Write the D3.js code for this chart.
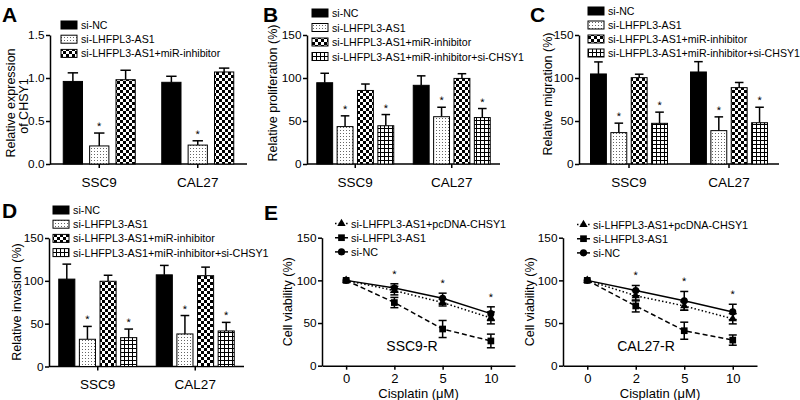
<!DOCTYPE html>
<html><head><meta charset="utf-8">
<script src="https://cdn.jsdelivr.net/npm/d3@7"></script>
<style>body{margin:0;background:#fff} svg{display:block} text{font-family:"Liberation Sans",Arial,sans-serif;fill:#000}</style>
</head><body><svg id="c" width="800" height="400"></svg>
<script>
// ---------------- DATA ----------------
const groups = ["SSC9", "CAL27"];
const seriesA = ["si-NC", "si-LHFPL3-AS1", "si-LHFPL3-AS1+miR-inhibitor"];
const seriesBCD = ["si-NC", "si-LHFPL3-AS1", "si-LHFPL3-AS1+miR-inhibitor", "si-LHFPL3-AS1+miR-inhibitor+si-CHSY1"];
// [group][series]
const expA = [[0.96, 0.21, 0.98], [0.95, 0.22, 1.07]];
const expAErr = [[0.10, 0.15, 0.11], [0.07, 0.05, 0.045]];
const starA = [[0, 1, 0], [0, 1, 0]];
const prolB = [[94.5, 43.5, 85.5, 44.5], [91.5, 55, 99.5, 54]];
const prolBErr = [[11, 12.5, 7.5, 13], [11, 11, 5.5, 10.5]];
const migC = [[104.7, 36.5, 100.4, 47.3], [107, 38.8, 88.8, 48]];
const migCErr = [[14, 11, 4, 13], [12, 16, 6, 18]];
const invD = [[102, 31.8, 99.5, 33.7], [107, 38, 106, 41.5]];
const invDErr = [[17.5, 15, 7, 10], [11, 21.5, 10, 10]];
const starBCD = [[0, 1, 0, 1], [0, 1, 0, 1]];
const yTicksA = [0, 0.5, 1.0, 1.5];
const yTicksPct = [0, 50, 100, 150];
const doses = ["0", "2", "5", "10"];
const lineSeries = ["si-LHFPL3-AS1+pcDNA-CHSY1", "si-LHFPL3-AS1", "si-NC"];
// [series][dose]
const ssc9R = [[100, 88, 74, 56], [100, 74, 43, 29], [100, 91, 79, 61]];
const ssc9RErr = [[0, 5, 4, 7], [0, 6, 10, 8], [0, 5, 6, 8]];
const cal27R = [[100, 82, 70, 55], [100, 70, 41, 30], [100, 88, 76, 63]];
const cal27RErr = [[0, 6, 5, 6], [0, 7, 10, 6], [0, 6, 11, 9]];
const doseStar = [0, 1, 1, 1];

// ---------------- DRAW ----------------
const svg = d3.select("#c");
const defs = svg.append("defs");
const pd = defs.append("pattern").attr("id", "pDots").attr("patternUnits", "userSpaceOnUse").attr("width", 3).attr("height", 3);
pd.append("rect").attr("width", 3).attr("height", 3).attr("fill", "#fff");
pd.append("rect").attr("x", 1).attr("y", 1).attr("width", 1).attr("height", 1).attr("fill", "#666");
const pc = defs.append("pattern").attr("id", "pCheck").attr("patternUnits", "userSpaceOnUse").attr("width", 6).attr("height", 6);
pc.append("rect").attr("width", 6).attr("height", 6).attr("fill", "#fff");
pc.append("rect").attr("width", 3).attr("height", 3).attr("fill", "#000");
pc.append("rect").attr("x", 3).attr("y", 3).attr("width", 3).attr("height", 3).attr("fill", "#000");
const pg = defs.append("pattern").attr("id", "pGrid").attr("patternUnits", "userSpaceOnUse").attr("width", 4).attr("height", 4);
pg.append("rect").attr("width", 4).attr("height", 4).attr("fill", "#fff");
pg.append("path").attr("d", "M0,0.5H4M0.5,0V4").attr("stroke", "#000").attr("stroke-width", 1);
const fills = ["#000", "url(#pDots)", "url(#pCheck)", "url(#pGrid)"];

function styleAxis(g) {
  g.selectAll("path,line").attr("stroke", "#000").attr("stroke-width", 1.5);
}

function letter(t, x, y) {
  svg.append("text").attr("x", x).attr("y", y).attr("font-size", 21).attr("font-weight", "bold").text(t);
}

function star(g, x, y) {
  g.append("text").attr("transform", `translate(${x},${y}) scale(1.001)`).attr("text-anchor", "middle")
    .attr("font-size", 11).attr("fill", "#000").style("text-rendering", "geometricPrecision").text("*");
}

function barPanel(c) {
  const g = svg.append("g");
  const x = d3.scaleBand().domain(groups).range([c.x0, c.x1]);
  const xs = d3.scaleBand().domain(c.series).range([-c.gw / 2, c.gw / 2]).paddingInner(c.inner);
  const y = d3.scaleLinear().domain([0, c.max]).range([c.yB, c.yT]);
  const ya = g.append("g").attr("transform", `translate(${c.x0},0)`)
    .call(d3.axisLeft(y).tickValues(c.ticks).tickFormat(c.fmt).tickSize(4).tickSizeOuter(0).tickPadding(1.5));
  ya.selectAll("text").attr("font-size", 11.8).attr("font-family", "Liberation Sans, Arial");
  styleAxis(ya);
  const xa = g.append("g").attr("transform", `translate(0,${c.yB})`)
    .call(d3.axisBottom(x).tickSize(4).tickSizeOuter(0).tickPadding(9));
  xa.select(".domain").attr("d", `M${c.x0},0H${c.x1}`);
  xa.selectAll("text").attr("font-size", 13.5).attr("font-family", "Liberation Sans, Arial");
  styleAxis(xa);
  groups.forEach((grp, gi) => {
    c.series.forEach((s, si) => {
      const v = c.vals[gi][si], e = c.errs[gi][si];
      const bx = x(grp) + x.bandwidth() / 2 + xs(s);
      const bw = xs.bandwidth();
      const cx = bx + bw / 2;
      g.append("line").attr("x1", cx).attr("x2", cx).attr("y1", y(v)).attr("y2", y(v + e)).attr("stroke", "#000").attr("stroke-width", 1.5);
      g.append("line").attr("x1", cx - bw * 0.27).attr("x2", cx + bw * 0.27).attr("y1", y(v + e)).attr("y2", y(v + e)).attr("stroke", "#000").attr("stroke-width", 1.5);
      g.append("rect").attr("x", bx).attr("y", y(v)).attr("width", bw).attr("height", y(0) - y(v))
        .attr("fill", fills[si]).attr("stroke", "#000").attr("stroke-width", 1);
      if (c.stars[gi][si]) star(g, cx, y(v + e) - 3);
    });
  });
  c.series.forEach((s, si) => {
    const ly = c.legY + si * c.legDy;
    g.append("rect").attr("x", c.legX).attr("y", ly - 4).attr("width", 16).attr("height", 8)
      .attr("fill", fills[si]).attr("stroke", "#000").attr("stroke-width", 1);
    g.append("text").attr("x", c.legX + 20).attr("y", ly + 4).attr("font-size", c.legFs).text(s);
  });
  c.title.forEach((t, i) => {
    g.append("text").attr("transform", `translate(${c.titleX[i]},${c.titleY[i]}) rotate(-90)`)
      .attr("text-anchor", "middle").attr("dominant-baseline", "central").attr("font-size", 12.5).text(t);
  });
}

const f1 = d3.format(".1f"), f0 = d3.format("d");

barPanel({x0: 50, x1: 247, yB: 164, yT: 35, max: 1.5, ticks: yTicksA, fmt: f1, series: seriesA, gw: 72, inner: 0.27,
  vals: expA, errs: expAErr, stars: starA, legX: 61, legY: 25, legDy: 14.2, legFs: 10.6,
  title: ["Relative expression", "of CHSY1"], titleX: [11, 24], titleY: [103, 106]});
barPanel({x0: 307, x1: 500, yB: 164, yT: 35, max: 150, ticks: yTicksPct, fmt: f0, series: seriesBCD, gw: 77, inner: 0.22,
  vals: prolB, errs: prolBErr, stars: starBCD, legX: 312, legY: 13, legDy: 14.5, legFs: 10.6,
  title: ["Relative proliferation (%)"], titleX: [273], titleY: [93]});
barPanel({x0: 579, x1: 779, yB: 164, yT: 35, max: 150, ticks: yTicksPct, fmt: f0, series: seriesBCD, gw: 77, inner: 0.22,
  vals: migC, errs: migCErr, stars: starBCD, legX: 588, legY: 11, legDy: 14, legFs: 10.6,
  title: ["Relative migration (%)"], titleX: [548], titleY: [94]});
barPanel({x0: 49, x1: 244, yB: 366.5, yT: 238, max: 150, ticks: yTicksPct, fmt: f0, series: seriesBCD, gw: 78, inner: 0.22,
  vals: invD, errs: invDErr, stars: starBCD, legX: 53, legY: 210, legDy: 14.2, legFs: 10.8,
  title: ["Relative invasion (%)"], titleX: [17], titleY: [302]});

function markerPath(type) {
  if (type === 0) return d3.symbol(d3.symbolTriangle, 30)();
  if (type === 1) return d3.symbol(d3.symbolSquare, 45)();
  return d3.symbol(d3.symbolCircle, 40)();
}
const dashes = ["1.5,2.2", "5,3", null];

function linePanel(c) {
  const g = svg.append("g");
  const x = d3.scalePoint().domain(doses).range([c.x0, c.x1]).padding(0.5);
  const y = d3.scaleLinear().domain([0, 150]).range([c.yB, c.yT]);
  const ya = g.append("g").attr("transform", `translate(${c.x0},0)`)
    .call(d3.axisLeft(y).tickValues(yTicksPct).tickFormat(f0).tickSize(4).tickSizeOuter(0).tickPadding(1.5));
  ya.selectAll("text").attr("font-size", 11.8).attr("font-family", "Liberation Sans, Arial");
  styleAxis(ya);
  const xa = g.append("g").attr("transform", `translate(0,${c.yB})`)
    .call(d3.axisBottom(x).tickSize(4).tickSizeOuter(0).tickPadding(4));
  xa.selectAll("text").attr("font-size", 13).attr("font-family", "Liberation Sans, Arial");
  styleAxis(xa);
  const line = d3.line().x((d, i) => x(doses[i])).y(d => y(d));
  lineSeries.forEach((s, si) => {
    g.append("path").datum(c.vals[si]).attr("d", line).attr("fill", "none").attr("stroke", "#000")
      .attr("stroke-width", 1.5).attr("stroke-dasharray", dashes[si]);
  });
  lineSeries.forEach((s, si) => {
    c.vals[si].forEach((v, di) => {
      const e = c.errs[si][di], cx = x(doses[di]);
      if (e > 0) {
        g.append("line").attr("x1", cx).attr("x2", cx).attr("y1", y(v - e)).attr("y2", y(v + e)).attr("stroke", "#000").attr("stroke-width", 1.5);
        [v - e, v + e].forEach(t => g.append("line").attr("x1", cx - 4).attr("x2", cx + 4).attr("y1", y(t)).attr("y2", y(t)).attr("stroke", "#000").attr("stroke-width", 1.5));
      }
      g.append("path").attr("d", markerPath(si)).attr("transform", `translate(${cx},${y(v)})`).attr("fill", "#000");
    });
  });
  doses.forEach((d, di) => {
    if (!doseStar[di]) return;
    const top = d3.max(lineSeries.map((s, si) => c.vals[si][di] + c.errs[si][di]));
    star(g, x(d), y(top) - 6);
  });
  lineSeries.forEach((s, si) => {
    const ly = c.legY + si * 14.2;
    g.append("line").attr("x1", c.legX).attr("x2", c.legX + 13).attr("y1", ly).attr("y2", ly)
      .attr("stroke", "#000").attr("stroke-width", 1.5).attr("stroke-dasharray", dashes[si]);
    g.append("path").attr("d", markerPath(si)).attr("transform", `translate(${c.legX + 6.5},${ly})`).attr("fill", "#000");
    g.append("text").attr("x", c.legX + 16).attr("y", ly + 4).attr("font-size", 10.8).text(s);
  });
  g.append("text").attr("x", c.labX).attr("y", c.yB - 15).attr("text-anchor", "middle").attr("font-size", 14).text(c.label);
  g.append("text").attr("x", (c.x0 + c.x1) / 2).attr("y", c.yB + 32).attr("text-anchor", "middle").attr("font-size", 13)
    .text("Cisplatin (μM)");
  g.append("text").attr("transform", `translate(${c.titleX},${(c.yB + c.yT) / 2}) rotate(-90)`)
    .attr("text-anchor", "middle").attr("dominant-baseline", "central").attr("font-size", 12.5).text("Cell viability (%)");
}

linePanel({x0: 322, x1: 515, yB: 365.7, yT: 237.7, vals: ssc9R, errs: ssc9RErr, legX: 335, legY: 223.5, label: "SSC9-R", labX: 412, titleX: 288});
linePanel({x0: 563, x1: 757, yB: 365.7, yT: 237.7, vals: cal27R, errs: cal27RErr, legX: 577, legY: 224.5, label: "CAL27-R", labX: 646, titleX: 530});

letter("A", 2, 22); letter("B", 263, 22); letter("C", 530, 22); letter("D", 2, 218); letter("E", 264, 220);
</script></body></html>
